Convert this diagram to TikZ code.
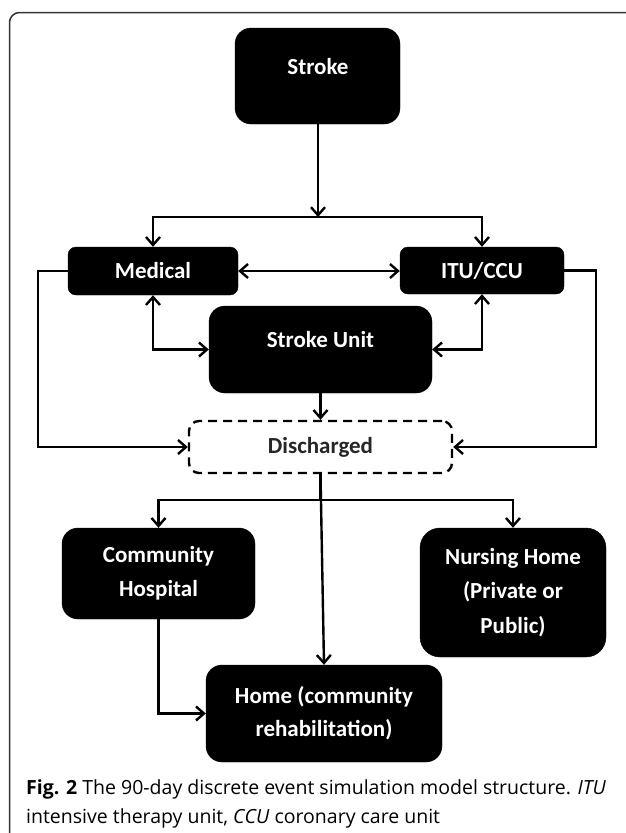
\documentclass[tikz,border=0pt]{standalone}
\usepackage{fontspec}
\newfontfamily\boxfont{Carlito}
\newfontfamily\capfont{Open Sans}
\usetikzlibrary{arrows.meta}
\begin{document}
\begin{tikzpicture}[x=1pt,y=-1pt,
  blk/.style={draw=black,fill=black,rounded corners=#1,text=white,font=\boxfont\bfseries\fontsize{23}{27}\selectfont,align=center,inner sep=0pt},
  blk/.default=10pt,
  wtxt/.style={text=white,font=\boxfont\bfseries\fontsize{23}{27}\selectfont,align=center,inner sep=0pt},
  arr/.style={line width=2.4pt,-{Straight Barb[length=8pt,width=14pt,line width=2.4pt]}},
  arrb/.style={line width=2.4pt,{Straight Barb[length=8pt,width=14pt,line width=2.4pt]}-{Straight Barb[length=8pt,width=14pt,line width=2.4pt]}},
  ln/.style={line width=2.4pt}]
\useasboundingbox (0,0) rectangle (625,833);
\fill[white] (0,0) rectangle (625,833);
% frame
\draw[line width=1.5pt,black!80,rounded corners=10pt] (9.5,12.5) rectangle (660,870);
% boxes
\node[blk=16pt,minimum width=165pt,minimum height=96pt] (stroke) at (317.5,76) {};
\node[wtxt] (strokeT) at (318,67) {Stroke};
\node[blk=8pt,minimum width=170pt,minimum height=48pt] (medical) at (153,271) {Medical};
\node[blk=8pt,minimum width=164pt,minimum height=47pt] (itu) at (482,270.5) {ITU/CCU};
\node[blk=16pt,minimum width=223pt,minimum height=87pt] (su) at (320.5,349.5) {};
\node[wtxt] (suT) at (320.5,340) {Stroke Unit};
\node[draw=black,line width=2.4pt,dash pattern=on 9pt off 6pt,fill=white,rounded corners=10pt,minimum width=263pt,minimum height=52pt,inner sep=0pt,text=black!85,font=\boxfont\bfseries\fontsize{23}{27}\selectfont] (dis) at (320.5,447) {Discharged};
\node[blk=16pt,minimum width=193pt,minimum height=91pt,font=\boxfont\bfseries\fontsize{23}{34}\selectfont] (ch) at (158.5,573.5) {Community\\Hospital};
\node[blk=20pt,minimum width=186pt,minimum height=129pt,font=\boxfont\bfseries\fontsize{23}{34.5}\selectfont] (nh) at (513,592.5) {Nursing Home\\(Private or\\Public)};
\node[blk=16pt,minimum width=236pt,minimum height=97pt,font=\boxfont\bfseries\fontsize{23}{33}\selectfont] (home) at (324,713.5) {Home (community\\rehabilitation)};
% connectors
\coordinate (j1) at (318,217);
\coordinate (j2) at (320.5,500);
\draw[arr] (stroke.south -| j1) -- (j1);
\draw[arr] (j1) -| (medical.north);
\draw[arr] (j1) -| (itu.north);
\draw[arrb] (medical.east) -- (medical.east -| itu.west);
\draw[arr] (medical.west) -- ++(-30,0) |- (dis.west);
\draw[arr] (itu.east) -- ++(32,0) |- (dis.east);
\draw[arrb] (medical.south) |- (su.west);
\draw[arrb] (itu.south) |- (su.east);
\draw[arr] (su.south) -- (dis.north);
\draw[ln] (dis.south) -- (j2);
\draw[arr] (j2) -| (ch.north);
\draw[arr] (j2) -| (nh.north);
\draw[arr] (dis.south) -- (home.north);
\draw[arr] (ch.south) |- (home.west);
% caption
\node[anchor=base west,inner sep=0pt,font=\capfont\fontsize{19.5}{23}\selectfont] (cap1) at (26,794) {\textbf{Fig. 2} The 90-day discrete event simulation model structure. \textit{ITU}};
\node[anchor=base west,inner sep=0pt,font=\capfont\fontsize{19.5}{23}\selectfont] (cap2) at (26,823) {intensive therapy unit, \textit{CCU} coronary care unit};
\end{tikzpicture}
\end{document}
